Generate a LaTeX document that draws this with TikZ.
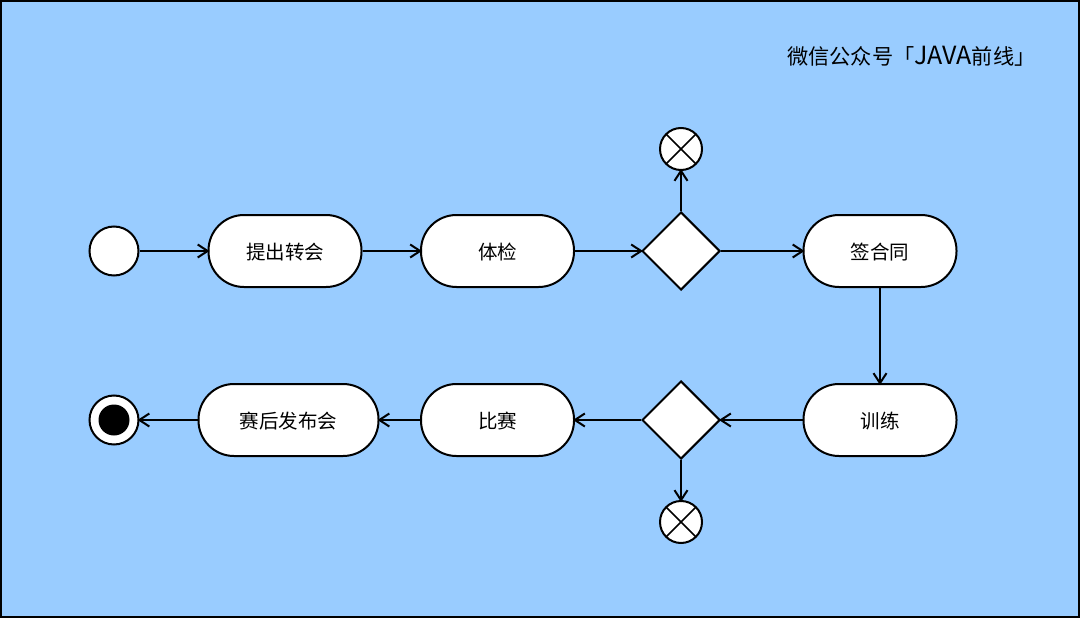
\documentclass[tikz,border=0pt]{standalone}
\usepackage{fontspec}
\setmainfont{Noto Sans CJK SC}
\usetikzlibrary{arrows.meta,shapes.geometric}
\definecolor{skyback}{HTML}{99CCFF}
\tikzset{
  act/.style={draw,line width=2pt,fill=white,rectangle,rounded corners=35.5pt,minimum height=72pt,inner sep=0pt,text height=18.5pt,text depth=2pt,font=\fontsize{19.5pt}{22pt}\selectfont},
  choice/.style={draw,line width=2pt,fill=white,diamond,aspect=1,inner sep=0pt,minimum width=78pt,minimum height=78pt},
  startdot/.style={draw,line width=2pt,fill=white,circle,inner sep=0pt,minimum size=49pt},
  stopmark/.style={draw,line width=2pt,fill=white,circle,inner sep=0pt,minimum size=42pt,
    path picture={\draw[line width=1.6pt] ([shift={(-15pt,-15pt)}]path picture bounding box.center) -- ([shift={(15pt,15pt)}]path picture bounding box.center);
      \draw[line width=1.6pt] ([shift={(-15pt,15pt)}]path picture bounding box.center) -- ([shift={(15pt,-15pt)}]path picture bounding box.center);}},
  flow/.style={line width=2pt,shorten >=-2pt,-{Straight Barb[length=10pt,width=13pt,line width=2pt]}}
}
\begin{document}
\begin{tikzpicture}[x=1pt,y=-1pt]
\useasboundingbox (0,0) rectangle (1080,618);
\node[draw,line width=2pt,fill=skyback,rectangle,minimum width=1078pt,minimum height=616pt,inner sep=0pt] (frame) at (540,309) {};
\node[anchor=west,inner sep=0pt,font=\fontsize{21.2pt}{25pt}\selectfont] (title) at (787,56) {微信公众号「{\fontsize{25pt}{25pt}\selectfont JAVA}前线」};
% top row
\node[startdot] (start) at (114,251) {};
\node[act,minimum width=153pt] (propose) at (285,251) {提出转会};
\node[act,minimum width=153pt] (exam) at (497.5,251) {体检};
\node[choice] (passed) at (681,251) {};
\node[stopmark] (stopa) at (681,149) {};
\node[act,minimum width=153pt] (sign) at (880,251) {签合同};
% bottom row
\node[act,minimum width=153pt] (train) at (880,420) {训练};
\node[choice] (fit) at (681,420) {};
\node[stopmark] (stopb) at (681,522) {};
\node[act,minimum width=153pt] (match) at (497.5,420) {比赛};
\node[act,minimum width=180pt] (press) at (288.5,420) {赛后发布会};
\node[startdot] (finish) at (114,420) {};
\node[circle,fill=black,inner sep=0pt,minimum size=31pt] (finishdot) at (finish) {};
\draw[flow] (start) -- (propose);
\draw[flow] (propose) -- (exam);
\draw[flow] (exam) -- (passed);
\draw[flow] (passed) -- (sign);
\draw[flow] (passed) -- (stopa);
\draw[flow] (sign) -- (train);
\draw[flow] (train) -- (fit);
\draw[flow] (fit) -- (stopb);
\draw[flow] (fit) -- (match);
\draw[flow] (match) -- (press);
\draw[flow] (press) -- (finish);
\end{tikzpicture}
\end{document}
